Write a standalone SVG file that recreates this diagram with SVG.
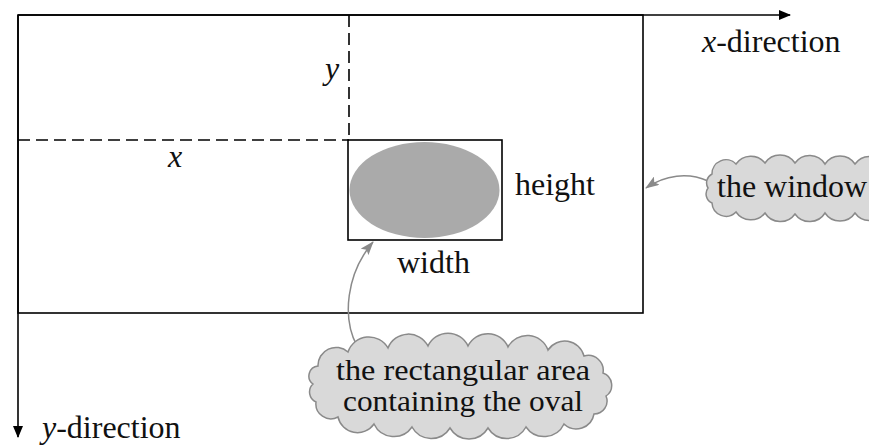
<svg xmlns="http://www.w3.org/2000/svg" width="869" height="446" viewBox="0 0 869 446">
<style>
.ln{fill:none;stroke:#000;stroke-width:1.6}
.dash{fill:none;stroke:#000;stroke-width:1.6;stroke-dasharray:12 6}
.t{font-family:'Liberation Serif','DejaVu Serif',serif;font-size:32px;fill:#111}
.it{font-style:italic}
.cloud{fill:#d9d9d9;stroke:#8a8a8a;stroke-width:1.5}
.call{fill:none;stroke:#8a8a8a;stroke-width:1.5}
</style>
<defs>
<marker id="ah" markerWidth="12" markerHeight="10" refX="11" refY="5" orient="auto" markerUnits="userSpaceOnUse">
<path d="M0,0 L12,5 L0,10 Z" fill="#000"/>
</marker>
<marker id="gh" markerWidth="14" markerHeight="10" refX="13" refY="5" orient="auto" markerUnits="userSpaceOnUse">
<path d="M0,0 L14,5 L0,10 L3,5 Z" fill="#8a8a8a"/>
</marker>
</defs>
<rect width="869" height="446" fill="#fff"/>
<g id="window">
<rect class="ln" x="18" y="15" width="625" height="298"/>
</g>
<g id="axes">
<path class="ln" d="M18,15 H790" marker-end="url(#ah)"/>
<path class="ln" d="M18,15 V437" marker-end="url(#ah)"/>
<text class="t" x="702" y="52"><tspan class="it">x</tspan>-direction</text>
<text class="t" x="42" y="438"><tspan class="it">y</tspan>-direction</text>
</g>
<g id="offsets">
<path class="dash" d="M349,15 V140"/>
<path class="dash" d="M18,140 H349"/>
<text class="t it" x="325" y="79">y</text>
<text class="t it" x="168" y="167">x</text>
</g>
<g id="oval-area">
<rect class="ln" x="348" y="140" width="154" height="100"/>
<ellipse cx="424.5" cy="190" rx="75" ry="48" fill="#aaaaaa"/>
<text class="t" x="515" y="195">height</text>
<text class="t" x="397" y="273">width</text>
</g>
<g id="connectors">
<path class="call" d="M708,181 C688,172 665,175 646,188" marker-end="url(#gh)"/>
<path class="call" d="M357,346 C342,318 346,274 373,242" marker-end="url(#gh)"/>
</g>
<g id="cloud-window">
<path class="cloud" d="M712,174 A14,14 0 0 1 736,164 A18,18 0 0 1 765,163 A18,18 0 0 1 795,163 A18,18 0 0 1 825,164 A18,18 0 0 1 855,164 A18,18 0 0 1 885,165 A28,28 0 0 1 885,212 A18,18 0 0 1 855,213 A18,18 0 0 1 825,213 A18,18 0 0 1 795,214 A18,18 0 0 1 765,213 A18,18 0 0 1 736,212 A14,14 0 0 1 712,203 A10,10 0 0 1 708,188 A10,10 0 0 1 712,174 Z"/>
<text class="t" x="717" y="197">the window</text>
</g>
<g id="cloud-rect">
<path class="cloud" d="M318,366 A18,18 0 0 1 348,352 A22,22 0 0 1 388,348 A22,22 0 0 1 428,346 A22,22 0 0 1 468,346 A22,22 0 0 1 508,347 A22,22 0 0 1 548,350 A20,20 0 0 1 584,356 A15,15 0 0 1 603,373 A13,13 0 0 1 606,396 A13,13 0 0 1 594,414 A18,18 0 0 1 564,424 A22,22 0 0 1 526,427 A22,22 0 0 1 488,428 A22,22 0 0 1 450,428 A22,22 0 0 1 412,427 A22,22 0 0 1 374,424 A20,20 0 0 1 338,417 A15,15 0 0 1 316,402 A11,11 0 0 1 313,384 A10,10 0 0 1 318,366 Z"/>
<text class="t" x="463" y="380" text-anchor="middle" style="font-size:30px" textLength="254" lengthAdjust="spacingAndGlyphs">the rectangular area</text>
<text class="t" x="463" y="411" text-anchor="middle" style="font-size:30px" textLength="240" lengthAdjust="spacingAndGlyphs">containing the oval</text>
</g>
</svg>
